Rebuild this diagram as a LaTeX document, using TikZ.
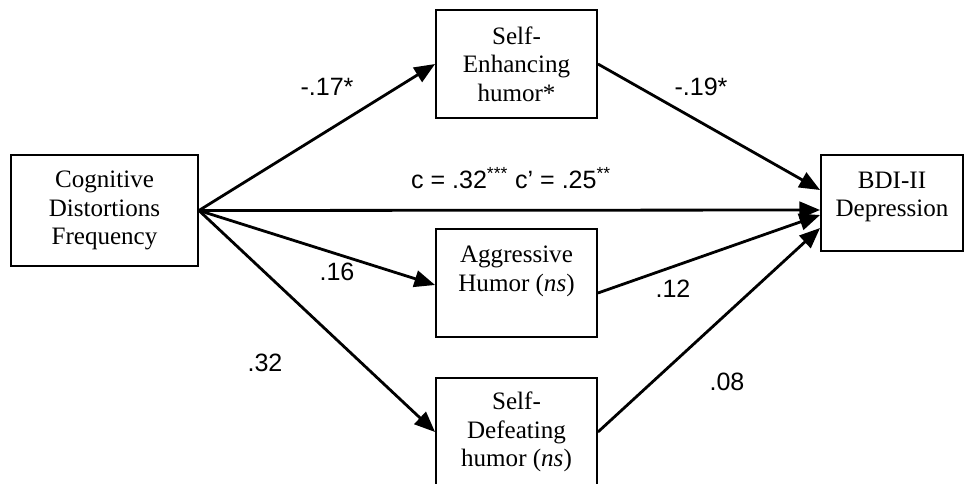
\documentclass[tikz,border=0pt]{standalone}
\usepackage{fontspec}
\setmainfont{Liberation Serif}
\newfontfamily\lab{Liberation Sans}
\usetikzlibrary{arrows.meta}
\begin{document}
\begin{tikzpicture}[x=0.75pt,y=-0.75pt,
  box/.style={draw,line width=1.4pt,align=center,inner sep=0pt,font=\fontsize{18.8}{21.4}\selectfont},
  conn/.style={line width=2.1pt,-{Triangle[length=15.5pt,width=12.5pt]}},
  lbl/.style={font=\lab\fontsize{18.8}{21.4}\selectfont,inner sep=0pt}]
\useasboundingbox (0,0) rectangle (965,483);
\node[box,minimum width=187*0.75pt,minimum height=111*0.75pt] (cog) at (104.5,210.5) {Cognitive\\Distortions\\Frequency};
\node[box,minimum width=161*0.75pt,minimum height=108*0.75pt] (se) at (516.5,64) {Self-\\Enhancing\\humor*};
\node[box,minimum width=161*0.75pt,minimum height=108*0.75pt] (ag) at (516.5,283) {Aggressive\\Humor (\textit{ns})\\\mbox{}};
\node[box,minimum width=161*0.75pt,minimum height=108*0.75pt] (sd) at (516.5,432) {Self-\\Defeating\\humor (\textit{ns})};
\node[box,minimum width=142*0.75pt,minimum height=96*0.75pt] (bdi) at (892,203) {BDI-II\\Depression\\[-8pt]\mbox{}};
\draw[conn] (cog.east) -- (se.west);
\draw[conn] (cog.east) -- ([yshift=-5.25pt]bdi.west);
\draw[conn] (cog.east) -- ([yshift=-1.5pt]ag.west);
\draw[conn] (cog.east) -- (sd.west);
\draw[conn] (se.east) -- ([yshift=9.75pt]bdi.west);
\draw[conn] ([yshift=-7.5pt]ag.east) -- ([yshift=-9pt]bdi.west);
\draw[conn] (sd.east) -- ([yshift=-18.75pt]bdi.west);
\node[lbl] (l1) at (327,87) {-.17*};
\node[lbl] (l2) at (511,178) {c = .32\textsuperscript{***} c’ = .25\textsuperscript{**}};
\node[lbl] (l3) at (701,87) {-.19*};
\node[lbl] (l4) at (337,272) {.16};
\node[lbl] (l5) at (265,363) {.32};
\node[lbl] (l6) at (673,289) {.12};
\node[lbl] (l7) at (727,382) {.08};
\end{tikzpicture}
\end{document}
